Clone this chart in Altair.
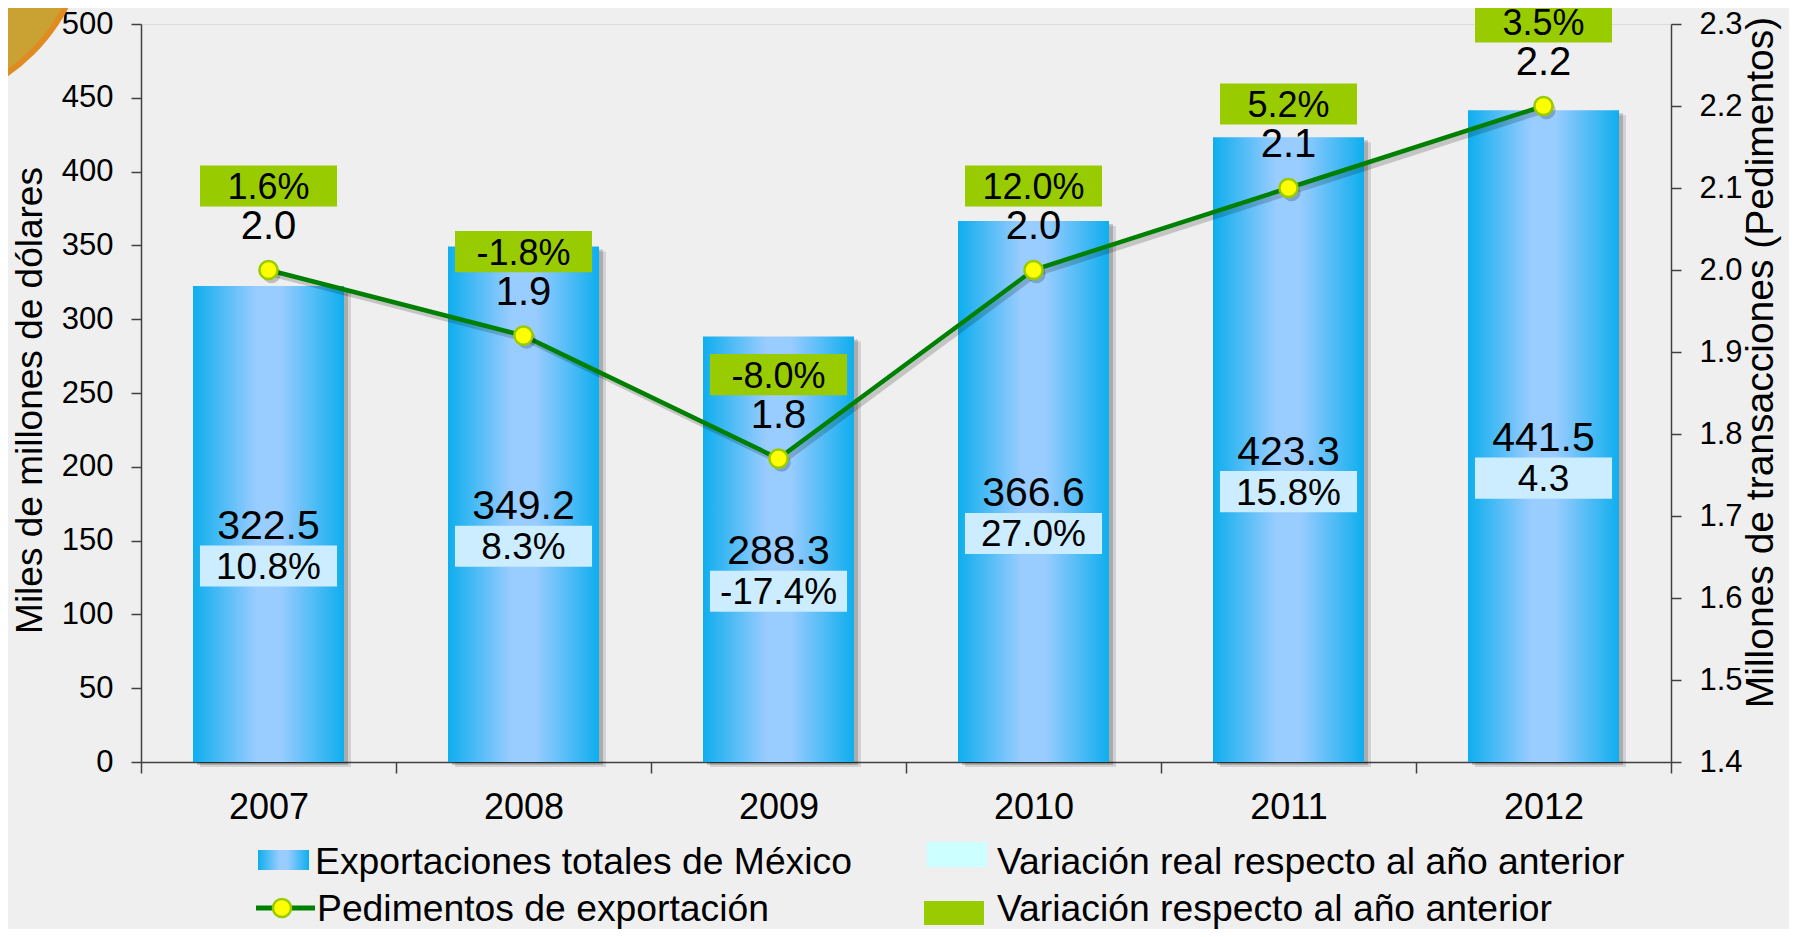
import altair as alt
import pandas as pd

FONT = "Liberation Sans"

# ---------------- data ----------------
years = ["2007", "2008", "2009", "2010", "2011", "2012"]
exportaciones = [322.5, 349.2, 288.3, 366.6, 423.3, 441.5]
variacion_real = ["10.8%", "8.3%", "-17.4%", "27.0%", "15.8%", "4.3"]
pedimentos = [2.00, 1.92, 1.77, 2.00, 2.10, 2.20]
variacion_ped = ["1.6%", "-1.8%", "-8.0%", "12.0%", "5.2%", "3.5%"]

left_ticks = [0, 50, 100, 150, 200, 250, 300, 350, 400, 450, 500]
right_ticks = [1.4, 1.5, 1.6, 1.7, 1.8, 1.9, 2.0, 2.1, 2.2, 2.3]

legend_labels = [
    "Exportaciones totales de México",
    "Pedimentos de exportación",
    "Variación real respecto al año anterior",
    "Variación respecto al año anterior",
]

df = pd.DataFrame({
    "year": years,
    "exports": exportaciones,
    "real_var": variacion_real,
    "ped": pedimentos,
    "ped_var": variacion_ped,
})

# ---------------- styles ----------------
BLUE_GRAD = alt.LinearGradient(
    gradient="linear", x1=0, x2=1, y1=0, y2=0,
    stops=[
        alt.GradientStop(color="#0EAEEE", offset=0),
        alt.GradientStop(color="#99CCFF", offset=0.42),
        alt.GradientStop(color="#99CCFF", offset=0.58),
        alt.GradientStop(color="#0EAEEE", offset=1),
    ],
)
BOX = "M-1,-0.3H1V0.3H-1Z"
BOX_SIZE = 137 * 137
AX = "#404040"

base = alt.Chart(df)

x_enc = alt.X(
    "year:N",
    sort=years,
    title=None,
    scale=alt.Scale(paddingInner=0, paddingOuter=0),
    axis=alt.Axis(
        title=None, labelAngle=0, labelFontSize=36, labelFont=FONT,
        labelColor="black", tickBand="extent", tickSize=11, labelPadding=17,
        domainColor=AX, tickColor=AX, domainWidth=1.5, tickWidth=1.5,
    ),
)

y_left_scale = alt.Scale(domain=[0, 500], nice=False)
left_axis = alt.Axis(
    values=left_ticks, title="Miles de millones de dólares",
    titleFontSize=37, titleFontWeight="normal", titleFont=FONT,
    titleColor="black", titlePadding=12, titleY=376,
    labelFontSize=31, labelFont=FONT, labelColor="black",
    tickSize=10, labelPadding=18, grid=False,
    domainColor=AX, tickColor=AX, domainWidth=1.5, tickWidth=1.5,
)


def yl(field):
    return alt.Y(field, scale=y_left_scale, axis=left_axis, title="Miles de millones de dólares")


# ---------- decoration (behind everything) ----------
one = pd.DataFrame({"k": [0]})
lg = alt.Chart(one)
corner = [
    lg.mark_arc(radius=190, theta=0, theta2=6.2832, color="#E08B22").encode(
        x=alt.value(-241), y=alt.value(-104)),
    lg.mark_arc(radius=184, theta=0, theta2=6.2832, color="#C9A233").encode(
        x=alt.value(-241), y=alt.value(-104)),
]

# ---------- bar group (left axis) ----------
shadow1 = base.mark_bar(width=151, color="#000000", opacity=0.18, xOffset=4, yOffset=3).encode(
    x=x_enc, y=yl("exports:Q"))
shadow2 = base.mark_bar(width=151, color="#000000", opacity=0.12, xOffset=7, yOffset=5).encode(
    x=x_enc, y=yl("exports:Q"))
bars = base.mark_bar(width=151, color=BLUE_GRAD).encode(x=x_enc, y=yl("exports:Q"))

half = base.transform_calculate(half="datum.exports / 2")
bar_val = half.mark_text(fontSize=41, font=FONT, color="black", baseline="middle", yOffset=3).encode(
    x=x_enc, y=yl("half:Q"), text=alt.Text("exports:Q", format=".1f"))
bar_box = half.mark_point(shape=BOX, size=BOX_SIZE, filled=True, color="#CCECFF",
                          opacity=1, strokeWidth=0, yOffset=42).encode(x=x_enc, y=yl("half:Q"))
bar_box_txt = half.mark_text(fontSize=37, font=FONT, color="black", baseline="middle", yOffset=44).encode(
    x=x_enc, y=yl("half:Q"), text="real_var:N")

left_group = alt.layer(shadow2, shadow1, bars, bar_val, bar_box, bar_box_txt)

# ---------- line group (right axis) ----------
y_right_scale = alt.Scale(domain=[1.4, 2.3], nice=False, zero=False)
right_axis = alt.Axis(
    orient="right", values=right_ticks, format=".1f",
    title="Millones de transacciones (Pedimentos)",
    titleAngle=270, titleFontSize=39, titleFontWeight="normal", titleFont=FONT,
    titleColor="black", titlePadding=38, titleY=338,
    labelFontSize=31, labelFont=FONT, labelColor="black",
    tickSize=10, labelPadding=18, grid=False,
    domainColor=AX, tickColor=AX, domainWidth=1.5, tickWidth=1.5,
)
y_right = alt.Y("ped:Q", scale=y_right_scale, axis=right_axis,
                title="Millones de transacciones (Pedimentos)")

line_shadow = base.mark_line(color="#000000", opacity=0.18, strokeWidth=5, xOffset=3, yOffset=4).encode(
    x=x_enc, y=y_right)
line = base.mark_line(color="#008000", strokeWidth=4.5).encode(x=x_enc, y=y_right)
pts_shadow = base.mark_circle(size=340, color="#000000", opacity=0.2, xOffset=3, yOffset=4).encode(
    x=x_enc, y=y_right)
pts = base.mark_point(filled=True, fill="#FFFF00", stroke="#99CC00", strokeWidth=2.5,
                      size=330, opacity=1).encode(x=x_enc, y=y_right)
ped_val = base.mark_text(fontSize=40, font=FONT, color="black", baseline="middle", yOffset=-43).encode(
    x=x_enc, y=y_right, text=alt.Text("ped:Q", format=".1f"))
ped_box = base.mark_point(shape=BOX, size=BOX_SIZE, filled=True, color="#99CC00",
                          opacity=1, strokeWidth=0, yOffset=-84).encode(x=x_enc, y=y_right)
ped_box_txt = base.mark_text(fontSize=36, font=FONT, color="black", baseline="middle", yOffset=-82).encode(
    x=x_enc, y=y_right, text="ped_var:N")

right_group = alt.layer(line_shadow, line, pts_shadow, pts, ped_val, ped_box, ped_box_txt)

# ---------- legend ----------


def lg_text(label, xp, yp):
    return alt.Chart(pd.DataFrame({"t": [label]})).mark_text(
        fontSize=37.3, font=FONT, color="black", align="left", baseline="middle"
    ).encode(text="t:N", x=alt.value(xp), y=alt.value(yp))


leg = [
    lg.mark_rect(color=BLUE_GRAD).encode(x=alt.value(117), x2=alt.value(168), y=alt.value(826), y2=alt.value(846)),
    lg_text(legend_labels[0], 174, 839),
    lg.mark_rule(color="#008000", strokeWidth=5).encode(x=alt.value(115), x2=alt.value(174), y=alt.value(884)),
    lg.mark_point(filled=True, fill="#FFFF00", stroke="#99CC00", strokeWidth=2.5, size=330, opacity=1).encode(
        x=alt.value(141), y=alt.value(884)),
    lg_text(legend_labels[1], 176, 886),
    lg.mark_rect(color="#CCFFFF").encode(x=alt.value(786), x2=alt.value(846), y=alt.value(818), y2=alt.value(843)),
    lg_text(legend_labels[2], 856, 839),
    lg.mark_rect(color="#99CC00").encode(x=alt.value(783), x2=alt.value(843), y=alt.value(877), y2=alt.value(901)),
    lg_text(legend_labels[3], 856, 886),
]

chart = alt.layer(*corner, left_group, right_group, *leg).resolve_scale(y="independent").properties(
    width=1530,
    height=738,
    padding={"left": 133, "top": 16, "right": 118, "bottom": 167},
    autosize=alt.AutoSizeParams(type="none"),
    background="#EFEFEF",
).configure_view(stroke=None).configure(font=FONT)

chart.save("out.html", embed_options={"renderer": "svg", "actions": False})
